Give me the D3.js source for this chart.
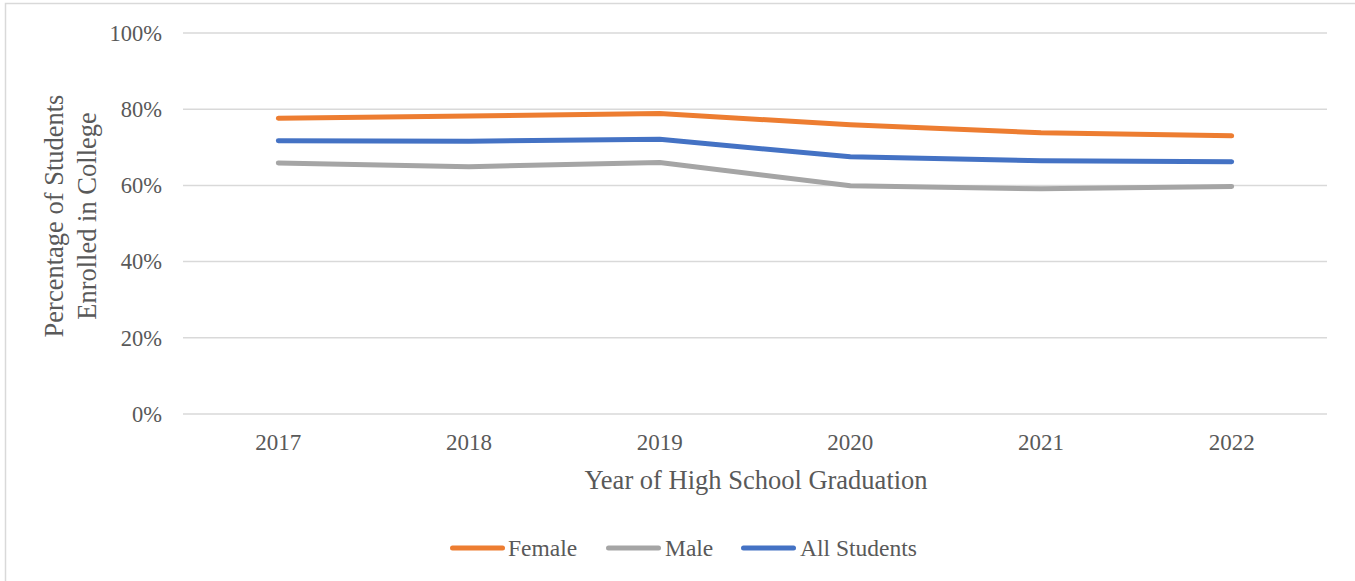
<!DOCTYPE html>
<html><head><meta charset="utf-8">
<script src="https://cdn.jsdelivr.net/npm/d3@7"></script>
<style>body{margin:0;background:#fff;} text{font-family:"Liberation Serif","Times New Roman",serif;fill:#595959;}</style>
</head><body>
<svg id="c" width="1355" height="581"></svg>
<script>
const years = ["2017","2018","2019","2020","2021","2022"];
const female = [77.6, 78.2, 78.9, 75.9, 73.8, 73.0];
const male = [65.9, 64.9, 66.0, 59.9, 59.1, 59.7];
const allStudents = [71.7, 71.6, 72.1, 67.5, 66.5, 66.2];
const yTicks = [0, 20, 40, 60, 80, 100];
const seriesNames = ["Female", "Male", "All Students"];
const seriesColors = ["#ED7D31", "#A5A5A5", "#4472C4"];
const seriesData = [female, male, allStudents];

const svg = d3.select("#c");
svg.append("rect").attr("x",5.5).attr("y",3.5).attr("width",1400).attr("height",600)
  .attr("fill","#fff").attr("stroke","#d9d9d9").attr("stroke-width",1.5);

const mLeft = 183, mRight = 1327, mTop = 33, mBottom = 414;
const x = d3.scaleBand().domain(years).range([mLeft, mRight]);
const y = d3.scaleLinear().domain([0, 100]).range([mBottom, mTop]);
const FONT = '"Liberation Serif","Times New Roman",serif';

svg.append("g").selectAll("line").data(yTicks).join("line")
  .attr("x1", mLeft).attr("x2", mRight)
  .attr("y1", d => y(d)).attr("y2", d => y(d))
  .attr("stroke", "#d9d9d9").attr("stroke-width", 1.5);

const yAxis = svg.append("g").attr("transform", `translate(${mLeft},0)`)
  .call(d3.axisLeft(y).tickValues(yTicks).tickFormat(d => d + "%").tickSize(0).tickPadding(21));
yAxis.select(".domain").remove();
yAxis.selectAll("text").attr("font-size", 22.5).attr("fill", "#595959").style("font-family", FONT);

const xAxis = svg.append("g").attr("transform", `translate(0,${mBottom})`)
  .call(d3.axisBottom(x).tickSize(0).tickPadding(20));
xAxis.select(".domain").remove();
xAxis.selectAll("text").attr("font-size", 23).attr("fill", "#595959").style("font-family", FONT);

const line = d3.line().x((d, i) => x(years[i]) + x.bandwidth() / 2).y(d => y(d));
seriesData.forEach((s, k) => {
  svg.append("path").datum(s).attr("d", line).attr("fill", "none")
    .attr("stroke", seriesColors[k]).attr("stroke-width", 5)
    .attr("stroke-linecap", "round").attr("stroke-linejoin", "round");
});

svg.append("text").attr("x", 756).attr("y", 489).attr("text-anchor", "middle")
  .attr("font-size", 26.5).text("Year of High School Graduation");

const yt = svg.append("text").attr("transform", "translate(0,216) rotate(-90)")
  .attr("text-anchor", "middle").attr("font-size", 26.5);
yt.append("tspan").attr("x", 0).attr("y", 63).text("Percentage of Students");
yt.append("tspan").attr("x", 0).attr("y", 96).text("Enrolled in College");

const legX = [452.5, 608.5, 743.5];
const legT = [508, 665, 800];
const lg = svg.append("g");
seriesNames.forEach((n, k) => {
  lg.append("line").attr("x1", legX[k]).attr("x2", legX[k] + 50).attr("y1", 548).attr("y2", 548)
    .attr("stroke", seriesColors[k]).attr("stroke-width", 5).attr("stroke-linecap", "round");
  lg.append("text").attr("x", legT[k]).attr("y", 556).attr("font-size", 23.5).text(n);
});
</script>
</body></html>
